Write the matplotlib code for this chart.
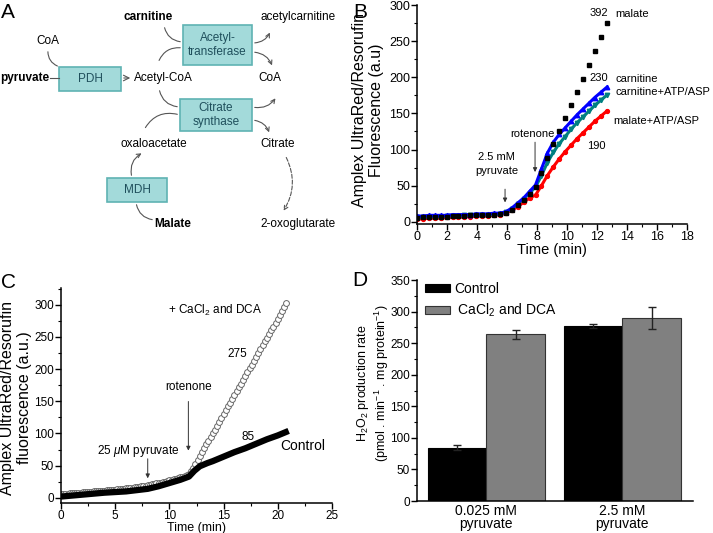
import numpy as np
import matplotlib
matplotlib.use("Agg")
import matplotlib.pyplot as plt
from matplotlib.patches import FancyArrowPatch, Rectangle
from matplotlib.ticker import MultipleLocator

plt.rcParams["font.family"] = ["Liberation Sans", "DejaVu Sans"]
plt.rcParams["mathtext.fontset"] = "custom"
plt.rcParams["mathtext.rm"] = "Liberation Sans"
plt.rcParams["mathtext.it"] = "Liberation Sans:italic"

# ---- panel B: fluorescence traces (33 samples, 0 to 12.64 min) ----
t_b = np.linspace(0, 12.64, 33)
malate = [5, 6, 6, 7, 7, 7, 8, 8, 8, 9, 9, 10, 10, 10, 11,
          12, 17, 23, 30, 39, 48, 68, 88, 107, 126, 144, 162, 180, 198, 217, 236, 256, 275]
carnitine = [8, 8, 9, 9, 9, 9, 10, 10, 10, 10, 11, 11, 11, 12, 12,
             14, 19, 26, 33, 42, 51, 73, 95, 110, 121, 130, 139, 148, 156, 164, 172, 179, 186]
carnitine_atp = [6, 6, 7, 7, 7, 8, 8, 8, 9, 9, 9, 10, 10, 10, 11,
                 13, 18, 25, 32, 40, 48, 64, 82, 96, 108, 118, 128, 137, 145, 153, 161, 168, 175]
malate_atp = [4, 4, 5, 5, 5, 6, 6, 6, 7, 7, 8, 8, 8, 9, 10,
              12, 16, 21, 27, 33, 37, 50, 64, 76, 87, 97, 106, 115, 123, 131, 139, 146, 153]

# ---- panel C ----
t_ctrl = [0, 2, 4, 6, 7, 8, 9, 10, 11, 11.8, 12.3, 12.8, 13.5, 14, 15, 16, 17, 18, 19, 20, 21]
control_c = [2, 5, 8, 10, 12, 14, 18, 23, 28, 33, 42, 49, 54, 57, 64, 71, 77, 84, 91, 97, 104]
t_dca = np.arange(0, 20.81, 0.2)
dca_c = [6.0, 6.2, 6.5, 6.7, 7.0, 7.2, 7.5, 7.7, 8.0, 8.2,
         8.5, 8.7, 9.0, 9.3, 9.6, 9.9, 10.2, 10.5, 10.8, 11.1,
         11.4, 11.7, 12.0, 12.3, 12.6, 12.9, 13.2, 13.5, 13.9, 14.3,
         14.7, 15.1, 15.5, 15.9, 16.3, 16.7, 17.2, 17.7, 18.2, 18.8,
         19.5, 20.2, 20.9, 21.6, 22.3, 23.0, 23.8, 24.6, 25.4, 26.2,
         27.0, 27.9, 28.8, 29.8, 30.8, 31.8, 32.9, 34.0, 35.5, 37.5,
         41, 47, 53, 59, 65, 71, 77, 83, 88, 94,
         100, 106, 112, 118, 124, 130, 136, 142, 148, 154,
         160, 166, 172, 177, 183, 189, 195, 201, 207, 213,
         219, 225, 231, 237, 243, 249, 254, 260, 266, 272,
         278, 284, 290, 296, 302]

# ---- panel D ----
groups = ["0.025 mM\npyruvate", "2.5 mM\npyruvate"]
control_d = [84, 277]
control_err = [4, 3]
dca_d = [264, 290]
dca_err = [7, 18]

W, H = 713, 533


def fx(px):
    return px / W


def fy(py):
    return 1 - py / H


def style_axis(ax):
    for s in ["top", "right"]:
        ax.spines[s].set_visible(False)
    for s in ["left", "bottom"]:
        ax.spines[s].set_linewidth(1.1)
    ax.tick_params(which="major", direction="out", length=4, width=1)
    ax.tick_params(which="minor", direction="out", length=2, width=0.8)


fig = plt.figure(figsize=(7.13, 5.33), dpi=100)
fig.patch.set_facecolor("white")

# ---------- panel A: pathway diagram (pixel coordinates) ----------
ax0 = fig.add_axes([0, 0, 1, 1])
ax0.set_xlim(0, W)
ax0.set_ylim(H, 0)
ax0.axis("off")

box_fc = "#a3dada"
box_ec = "#5fb3b3"
box_tc = "#1f4f5c"
boxes = [
    (183, 25, 69, 40, "Acetyl-\ntransferase"),
    (59, 67, 62, 24, "PDH"),
    (180, 99, 72, 32, "Citrate\nsynthase"),
    (107, 178, 60, 24, "MDH"),
]
for x, y, w, h, label in boxes:
    ax0.add_patch(Rectangle((x, y), w, h, facecolor=box_fc, edgecolor=box_ec, lw=1.2))
    ax0.text(x + w / 2, y + h / 2, label, ha="center", va="center", fontsize=8.5,
             color=box_tc, linespacing=1.3)

words = [
    (148, 17, "carnitine", "bold"),
    (298, 17, "acetylcarnitine", "normal"),
    (48, 41, "CoA", "normal"),
    (163, 78, "Acetyl-CoA", "normal"),
    (270, 78, "CoA", "normal"),
    (154, 144, "oxaloacetate", "normal"),
    (278, 144, "Citrate", "normal"),
    (173, 224, "Malate", "bold"),
    (298, 224, "2-oxoglutarate", "normal"),
]
for x, y, s, wt in words:
    ax0.text(x, y, s, ha="center", va="center", fontsize=8.5, weight=wt)
ax0.text(49, 78, "pyruvate", ha="right", va="center", fontsize=8.5, weight="bold")
ax0.plot([50, 59], [78, 78], color="#555555", lw=0.8)
ax0.annotate("", xy=(133, 78), xytext=(121, 78),
             arrowprops=dict(arrowstyle="->", lw=0.8, color="#555555"))

curves = [
    ((48, 49), (60, 67), 0.4, "-", "-"),
    ((164, 25), (183, 42), 0.4, "-", "-"),
    ((158, 63), (183, 48), -0.4, "-", "-"),
    ((252, 43), (271, 30), 0.35, "->", "-"),
    ((252, 52), (273, 68), -0.35, "->", "-"),
    ((159, 88), (180, 107), 0.4, "-", "-"),
    ((144, 130), (180, 115), -0.4, "-", "-"),
    ((252, 107), (277, 96), 0.35, "->", "-"),
    ((252, 120), (270, 135), -0.35, "->", "-"),
    ((285, 155), (282, 213), -0.3, "->", "--"),
    ((132, 178), (144, 152), -0.4, "->", "-"),
    ((136, 202), (155, 220), 0.4, "-", "-"),
]
for p0, p1, rad, style, ls in curves:
    arr = FancyArrowPatch(p0, p1, connectionstyle=f"arc3,rad={rad}", arrowstyle=style,
                          mutation_scale=7, lw=0.8, color="#555555", linestyle=ls)
    ax0.add_patch(arr)

for x, y, s in [(8, 12, "A"), (360, 12, "B"), (8, 282, "C"), (360, 281, "D")]:
    ax0.text(x, y, s, ha="center", va="center", fontsize=15)

# ---------- panel B ----------
axb = fig.add_axes([fx(417), fy(224), fx(687) - fx(417), fy(5) - fy(224)])
style_axis(axb)
axb.plot(t_b, malate_atp, color="#ff0000", marker="o", ms=2.8, lw=2.2)
axb.plot(t_b, carnitine_atp, color="#008080", marker="v", ms=3.2, lw=2.2)
axb.plot(t_b, carnitine, color="#0000ff", marker="^", ms=3.2, lw=2.2)
axb.plot(t_b, malate, color="black", marker="s", ms=3.2, lw=0)
axb.set_xlim(0, 18)
axb.set_ylim(-3, 300)
axb.xaxis.set_major_locator(MultipleLocator(2))
axb.xaxis.set_minor_locator(MultipleLocator(1))
axb.yaxis.set_major_locator(MultipleLocator(50))
axb.yaxis.set_minor_locator(MultipleLocator(25))
axb.tick_params(labelsize=9, pad=1)
axb.set_xlabel("Time (min)", fontsize=10.5, labelpad=0)

fs_b = 8
axb.text(12.1, 289, "392", ha="center", va="center", fontsize=fs_b)
axb.text(13.2, 288, "malate", ha="left", va="center", fontsize=fs_b)
axb.text(12.15, 199, "230", ha="center", va="center", fontsize=fs_b)
axb.text(13.2, 198, "carnitine", ha="left", va="center", fontsize=fs_b)
axb.text(13.2, 179, "carnitine+ATP/ASP", ha="left", va="center", fontsize=fs_b)
axb.text(13.1, 139, "malate+ATP/ASP", ha="left", va="center", fontsize=fs_b)
axb.text(11.95, 105, "190", ha="center", va="center", fontsize=fs_b)
axb.text(7.67, 122, "rotenone", ha="center", va="center", fontsize=fs_b)
axb.annotate("", xy=(7.87, 65), xytext=(7.87, 114),
             arrowprops=dict(arrowstyle="-|>", lw=0.7, color="#333333", mutation_scale=6))
axb.text(5.3, 80, "2.5 mM\npyruvate", ha="center", va="center", fontsize=fs_b, linespacing=1.6)
axb.annotate("", xy=(5.87, 23), xytext=(5.87, 49),
             arrowprops=dict(arrowstyle="-|>", lw=0.7, color="#333333", mutation_scale=6))

fig.text(fx(368), fy(110), "Amplex UltraRed/Resorufin\nFluorescence (a.u)", rotation=90,
         ha="center", va="center", fontsize=11.5, linespacing=1.1)

# ---------- panel C ----------
axc = fig.add_axes([fx(61), fy(503), fx(332) - fx(61), fy(288) - fy(503)])
style_axis(axc)
axc.plot(t_dca, dca_c, linestyle="none", marker="o", ms=4.2, mfc="white",
         mec="#666666", mew=0.7)
axc.plot(t_ctrl, control_c, color="black", lw=4.5, solid_capstyle="butt")
axc.set_xlim(0, 25)
axc.set_ylim(-8, 326)
axc.xaxis.set_major_locator(MultipleLocator(5))
axc.xaxis.set_minor_locator(MultipleLocator(2.5))
axc.yaxis.set_major_locator(MultipleLocator(50))
axc.yaxis.set_minor_locator(MultipleLocator(25))
axc.tick_params(labelsize=8.5, pad=1)
axc.set_xlabel("Time (min)", fontsize=9)
axc.xaxis.set_label_coords(0.5, -0.088)

axc.text(7.1, 73, "25 $\\mu$M pyruvate", ha="center", va="center", fontsize=8.5)
axc.annotate("", xy=(8.0, 26), xytext=(8.0, 65),
             arrowprops=dict(arrowstyle="-|>", lw=0.7, color="#333333", mutation_scale=6))
axc.text(11.8, 172, "rotenone", ha="center", va="center", fontsize=8.5)
axc.annotate("", xy=(11.75, 69), xytext=(11.75, 154),
             arrowprops=dict(arrowstyle="-|>", lw=0.7, color="#333333", mutation_scale=6))
axc.text(14.2, 291, "+ CaCl$_2$ and DCA", ha="center", va="center", fontsize=8.5)
axc.text(16.3, 223, "275", ha="center", va="center", fontsize=8.5)
axc.text(17.3, 95, "85", ha="center", va="center", fontsize=8.5)
axc.text(22.3, 81, "Control", ha="center", va="center", fontsize=10)

fig.text(fx(16), fy(398), "Amplex UltraRed/Resorufin\nfluorescence (a.u.)", rotation=90,
         ha="center", va="center", fontsize=11.5, linespacing=1.1)

# ---------- panel D ----------
axd = fig.add_axes([fx(417), fy(501), fx(693) - fx(417), fy(280) - fy(501)])
style_axis(axd)
x = np.arange(len(groups))
bw = 0.43
axd.bar(x - bw / 2, control_d, bw, yerr=control_err, color="black", edgecolor="black",
        lw=0.8, capsize=3, error_kw=dict(lw=1, capthick=1, ecolor="#222222"), label="Control")
axd.bar(x + bw / 2, dca_d, bw, yerr=dca_err, color="#808080", edgecolor="#333333",
        lw=0.8, capsize=3, error_kw=dict(lw=1, capthick=1, ecolor="#222222"),
        label=" CaCl$_2$ and DCA")
axd.set_xlim(-0.51, 1.52)
axd.set_ylim(0, 350)
axd.set_xticks(x)
axd.set_xticklabels(groups, fontsize=10, linespacing=0.9)
axd.tick_params(axis="x", length=0, pad=2)
axd.yaxis.set_major_locator(MultipleLocator(50))
axd.yaxis.set_minor_locator(MultipleLocator(25))
axd.tick_params(axis="y", labelsize=8.5, pad=1)
axd.legend(loc="upper left", bbox_to_anchor=(0.0, 1.03), frameon=False, fontsize=10,
           handlelength=1.8, handleheight=0.55, labelspacing=0.45, handletextpad=0.25,
           borderaxespad=0.2)

fig.text(fx(373), fy(383),
         "H$_2$O$_2$ production rate\n(pmol . min$^{-1}$ . mg protein$^{-1}$)", rotation=90,
         ha="center", va="center", fontsize=9, linespacing=1.15)

fig.savefig("out.png", dpi=100, facecolor="white")
